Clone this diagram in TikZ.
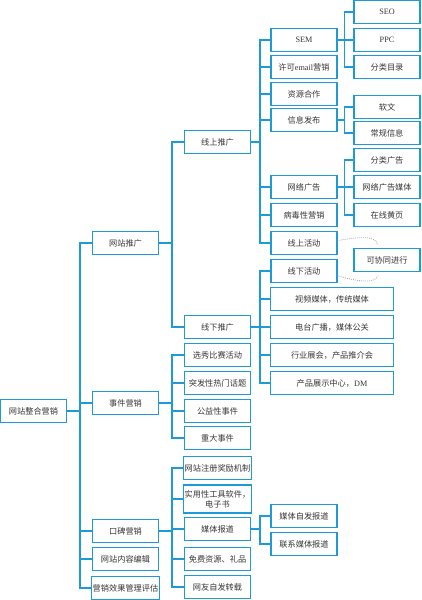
\documentclass[tikz,border=0pt]{standalone}
\usepackage{xcolor}
\usepackage{fontspec}
\setmainfont{Liberation Serif}
\newfontfamily\cjk{Noto Sans CJK SC}
\usepackage{tikz}
\usetikzlibrary{positioning}

\definecolor{lineblue}{RGB}{30,155,215}
\definecolor{textgray}{RGB}{55,55,55}

\begin{document}
\begin{tikzpicture}[x=0.03cm, y=-0.03cm,
  box/.style={rectangle, draw=lineblue, line width=1.3pt, fill=white, text=textgray,
    minimum width=1.97cm, minimum height=0.68cm, inner sep=1pt,
    font=\fontsize{7}{8.5}\selectfont\cjk},
  wide/.style={box, minimum width=3.68cm},
  link/.style={draw=lineblue, line width=1.1pt}]
 \useasboundingbox (0, 0) rectangle (421, 600);
 % root and first level
 \node [box] (R) at (33.5, 411) {网站整合营销};
 \node [box] (A) at (125.5, 243) {网站推广};
 \node [box] (B) at (125.5, 403) {事件营销};
 \node [box] (C) at (125.5, 531) {口碑营销};
 \node [box] (D) at (125.5, 559) {网站内容编辑};
 \node [box] (E) at (125.5, 588) {营销效果管理评估};
 % second level
 \node [box] (A1) at (217.5, 142) {线上推广};
 \node [box] (A2) at (217.5, 327) {线下推广};
 \node [box] (B1) at (217.5, 355) {选秀比赛活动};
 \node [box] (B2) at (217.5, 383) {突发性热门话题};
 \node [box] (B3) at (217.5, 411) {公益性事件};
 \node [box] (B4) at (217.5, 438) {重大事件};
 \node [box] (C1) at (217.5, 468) {网站注册奖励机制};
 \node [box, minimum height=0.84cm, align=center] (C2) at (217.5, 499) {实用性工具软件，\\电子书};
 \node [box] (C3) at (217.5, 529) {媒体报道};
 \node [box] (C4) at (217.5, 559) {免费资源、礼品};
 \node [box] (C5) at (217.5, 587) {网友自发转载};
 % third level
 \node [box] (A11) at (304, 40) {\rmfamily SEM};
 \node [box] (A12) at (304, 67) {许可{\rmfamily email}营销};
 \node [box] (A13) at (304, 94) {资源合作};
 \node [box] (A14) at (304, 120) {信息发布};
 \node [box] (A15) at (304, 187) {网络广告};
 \node [box] (A16) at (304, 215) {病毒性营销};
 \node [box] (A17) at (304, 243) {线上活动};
 \node [box] (A21) at (304, 271) {线下活动};
 \node [wide] (A22) at (332, 299) {视频媒体，传统媒体};
 \node [wide] (A23) at (332, 327) {电台广播，媒体公关};
 \node [wide] (A24) at (332, 355) {行业展会，产品推介会};
 \node [wide] (A25) at (332, 383) {产品展示中心，{\rmfamily DM}};
 \node [box] (C31) at (304, 516) {媒体自发报道};
 \node [box] (C32) at (304, 544) {联系媒体报道};
 % fourth level
 \node [box] (A111) at (387, 12) {\rmfamily SEO};
 \node [box] (A112) at (387, 40) {\rmfamily PPC};
 \node [box] (A113) at (387, 67) {分类目录};
 \node [box] (A141) at (387, 107) {软文};
 \node [box] (A142) at (387, 133) {常规信息};
 \node [box] (A151) at (387, 160) {分类广告};
 \node [box] (A152) at (387, 187) {网络广告媒体};
 \node [box] (A153) at (387, 215) {在线黄页};
 \node [box] (K) at (387, 260) {可协同进行};
 % connectors
 \foreach \n in {A,B,C,D,E}
  \draw [link] (R.east) -- +(13,0) |- (\n.west);
 \foreach \n in {A1,A2}
  \draw [link] (A.east) -- +(13,0) |- (\n.west);
 \foreach \n in {B1,B2,B3,B4}
  \draw [link] (B.east) -- +(13,0) |- (\n.west);
 \foreach \n in {C1,C2,C3,C4,C5}
  \draw [link] (C.east) -- +(13,0) |- (\n.west);
 \foreach \n in {A11,A12,A13,A14,A15,A16,A17}
  \draw [link] (A1.east) -- +(9,0) |- (\n.west);
 \foreach \n in {A21,A22,A23,A24,A25}
  \draw [link] (A2.east) -- +(9,0) |- (\n.west);
 \foreach \n in {C31,C32}
  \draw [link] (C3.east) -- +(9,0) |- (\n.west);
 \foreach \n in {A111,A112,A113}
  \draw [link] (A11.east) -- +(7,0) |- (\n.west);
 \foreach \n in {A141,A142}
  \draw [link] (A14.east) -- +(7,0) |- (\n.west);
 \foreach \n in {A151,A152,A153}
  \draw [link] (A15.east) -- +(7,0) |- (\n.west);
 % dotted links to K
 \draw [densely dotted, gray!70, line width=0.7pt] ([yshift=2pt]A17.east) .. controls (362,236) and (377,236) .. ([shift={(24,-3)}]K.north west);
 \draw [densely dotted, gray!70, line width=0.7pt] ([yshift=-4pt]A21.east) .. controls (362,283) and (377,283) .. ([shift={(24,3)}]K.south west);
\end{tikzpicture}
\end{document}
